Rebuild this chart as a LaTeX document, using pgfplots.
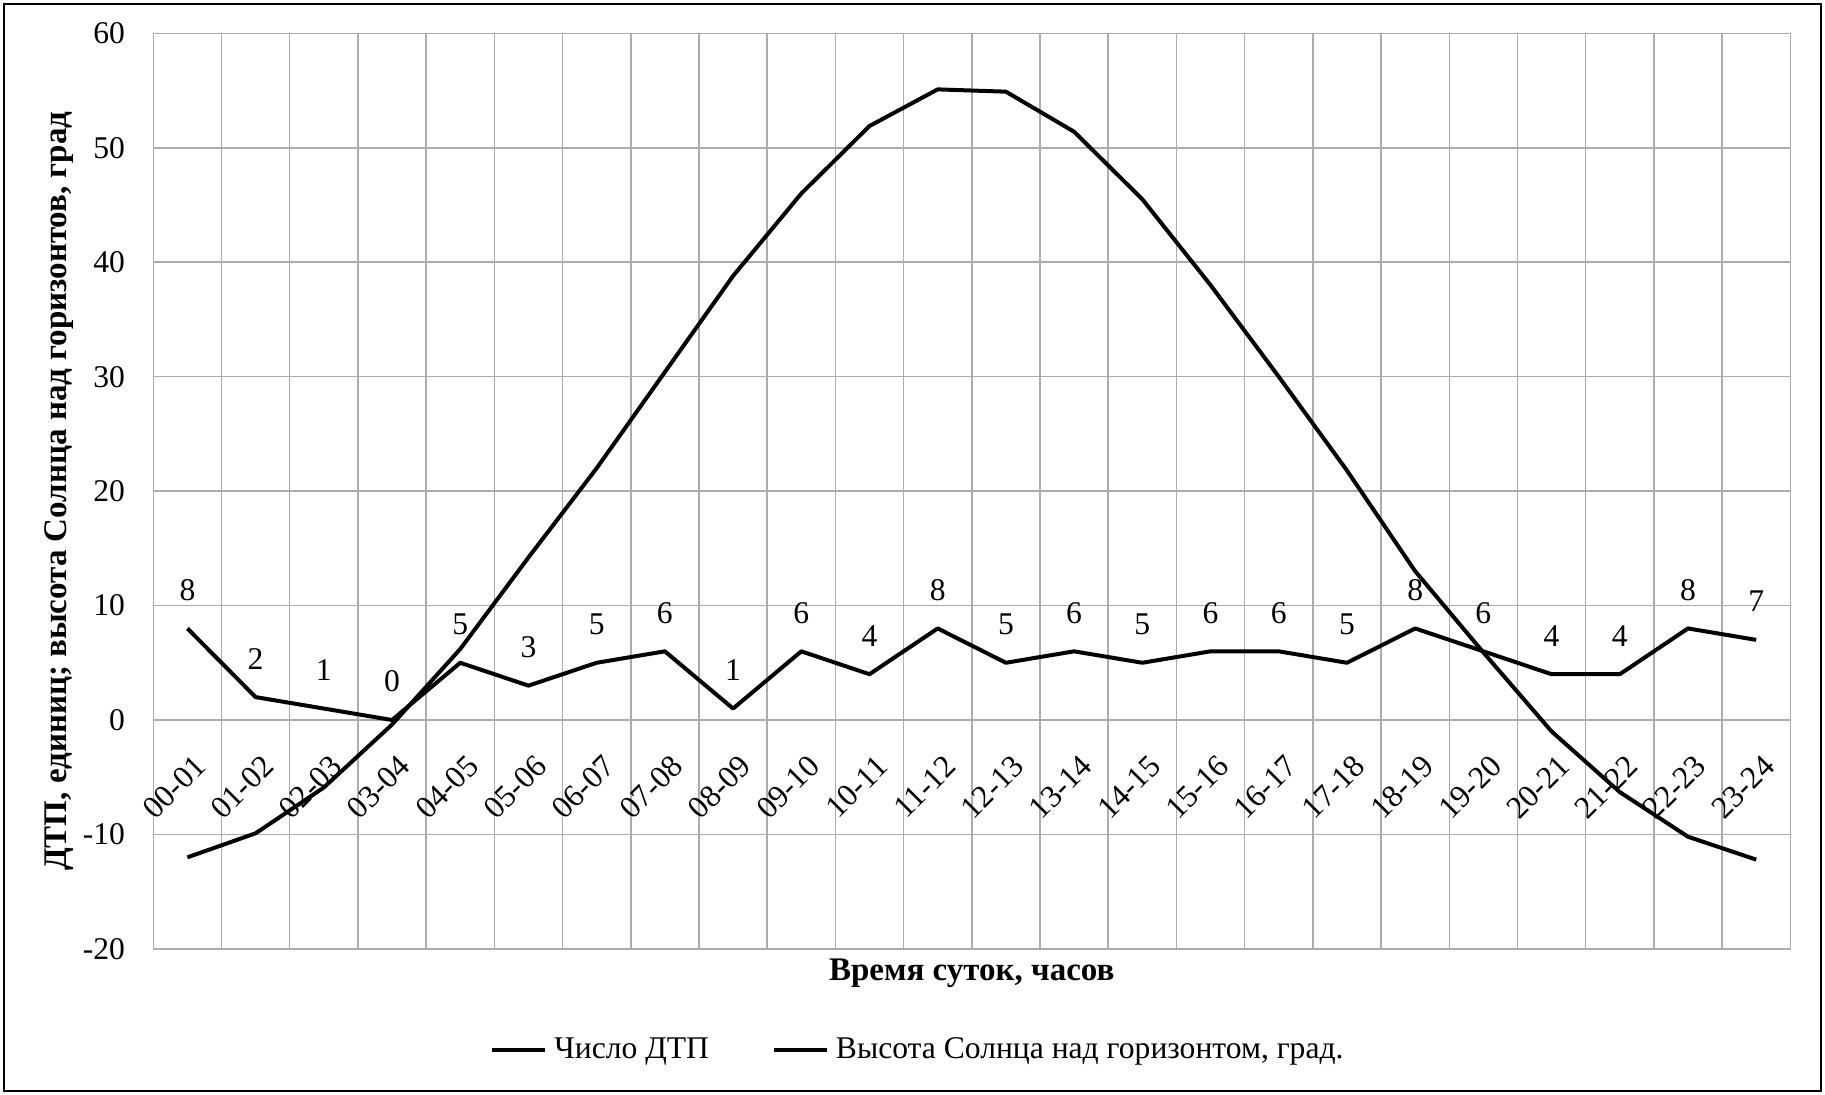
\documentclass[border=0pt]{standalone}
\usepackage{fontspec}
\setmainfont{Liberation Serif}
\usepackage{pgfplots}
\usepackage{pgfplotstable}
\pgfplotsset{compat=1.18}

\newcommand{\cf}{\fontsize{15.8}{19}\selectfont}

% hour interval index, road accidents, sun height (deg)
\pgfplotstableread{
idx dtp sun
0  8 -12.0
1  2  -9.9
2  1  -5.9
3  0  -0.4
4  5   6.2
5  3  14.2
6  5  22.0
7  6  30.4
8  1  38.8
9  6  46.0
10 4  51.9
11 8  55.1
12 5  54.9
13 6  51.4
14 5  45.5
15 6  38.0
16 6  30.0
17 5  21.8
18 8  13.0
19 6   5.9
20 4  -1.0
21 4  -6.3
22 8 -10.2
23 7 -12.2
}\datatable

\begin{document}
\begin{tikzpicture}
\begin{axis}[
    name=main,
    scale only axis,
    width=818.5pt, height=457.8pt,
    xmin=-0.5, xmax=23.5,
    ymin=-20, ymax=60,
    ytick={-20,-10,...,60},
    xtick={0,...,23},
    xticklabels={00-01,01-02,02-03,03-04,04-05,05-06,06-07,07-08,08-09,09-10,10-11,11-12,
                 12-13,13-14,14-15,15-16,16-17,17-18,18-19,19-20,20-21,21-22,22-23,23-24},
    minor xtick={-0.5,0.5,...,23.5},
    xmajorgrids=false, xminorgrids, ymajorgrids,
    grid style={draw=gray!65, line width=0.75pt},
    minor grid style={draw=gray!65, line width=0.75pt},
    axis line style={draw=gray!65, line width=0.75pt},
    major tick length=0pt, minor tick length=0pt,
    /pgf/number format/assume math mode=true,
    tick label style={font=\cf},
    yticklabel style={anchor=east, inner sep=0pt, xshift=-14pt},
    xticklabel style={xshift=6.5pt, yshift=93.95pt, rotate=45, anchor=east, inner sep=0pt},
    xlabel={Время суток, часов},
    ylabel={ДТП, единиц; высота Солнца над горизонтов, град},
    label style={font=\fontsize{16.5}{19}\selectfont\bfseries},
    xlabel style={at={(axis description cs:0.5,-0.0262)}, anchor=center},
    ylabel style={at={(axis description cs:-0.0574,0.5)}, anchor=center},
    legend style={at={(axis description cs:0.4665,-0.1103)}, anchor=center,
        draw=none, fill=none, legend columns=-1, font=\cf,
        nodes={inner sep=0pt},
        /tikz/every odd column/.append style={column sep=3.5pt},
        /tikz/every even column/.append style={column sep=31.5pt}},
    legend image code/.code={\draw[line width=2pt] (0pt,0pt) -- (26.5pt,0pt);},
]
\addplot[black, line width=2pt, line join=round,
    nodes near coords, point meta=explicit,
    every node near coord/.append style={font=\cf, anchor=south, inner sep=0pt, yshift=13pt}]
    table[x=idx, y=dtp, meta=dtp] {\datatable};
\addlegendentry{Число ДТП}
\addplot[black, line width=2pt, line join=round]
    table[x=idx, y=sun] {\datatable};
\addlegendentry{Высота Солнца над горизонтом, град.}
\end{axis}
\pgfresetboundingbox
\path[use as bounding box] ([shift={(-76.65pt,-73.05pt)}]main.south west) rectangle ++(912.5pt,547.5pt);
\draw[line width=1.3pt] ([shift={(-74.65pt,-71.05pt)}]main.south west) rectangle ++(908.5pt,543.5pt);
\end{tikzpicture}
\end{document}
